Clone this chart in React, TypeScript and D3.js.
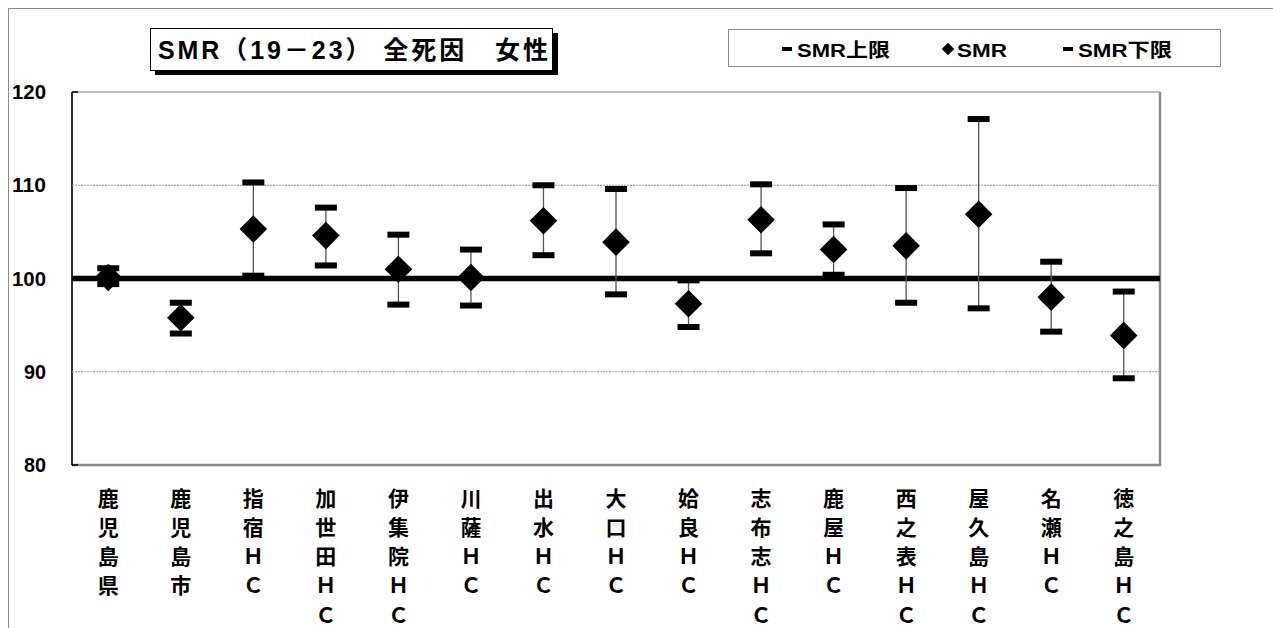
import React from "react";
import * as d3 from "d3";

const categories: string[] = [
  "鹿児島県", "鹿児島市", "指宿ＨＣ", "加世田ＨＣ", "伊集院ＨＣ", "川薩ＨＣ", "出水ＨＣ", "大口ＨＣ",
  "姶良ＨＣ", "志布志ＨＣ", "鹿屋ＨＣ", "西之表ＨＣ", "屋久島ＨＣ", "名瀬ＨＣ", "徳之島ＨＣ",
];
const smrUpper: number[] = [101.1, 97.4, 110.3, 107.6, 104.7, 103.1, 110.0, 109.6, 99.8, 110.1, 105.8, 109.7, 117.1, 101.8, 98.6];
const smrValues: number[] = [100.1, 95.8, 105.3, 104.6, 101.0, 100.1, 106.2, 103.9, 97.3, 106.3, 103.1, 103.5, 106.9, 98.0, 93.9];
const smrLower: number[] = [99.4, 94.1, 100.3, 101.4, 97.2, 97.1, 102.5, 98.3, 94.8, 102.7, 100.4, 97.4, 96.8, 94.3, 89.3];
const yTicks: number[] = [80, 90, 100, 110, 120];
const gridValues: number[] = [90, 110];
const baseline = 100;
const titleText = "SMR（19－23） 全死因　女性";
const legendLabels: string[] = ["SMR上限", "SMR", "SMR下限"];
const legendSymbols: string[] = ["bar", "diamond", "bar"];

const W = 1273;
const H = 628;
const plot = { left: 72, right: 1160, top: 92, bottom: 465 };
const FONT = "'Liberation Sans', Arial, 'Noto Sans CJK JP', sans-serif";

export default function App() {
  const x = d3
    .scaleBand<string>()
    .domain(categories)
    .range([plot.left, plot.right])
    .paddingInner(0)
    .paddingOuter(0);
  const y = d3.scaleLinear().domain([80, 120]).range([plot.bottom, plot.top]);
  const cx = (c: string) => (x(c) ?? 0) + x.bandwidth() / 2;

  const diamond = d3.symbol().type(d3.symbolDiamond2).size(2 * 11 * 11 * 2)();
  const legendDiamond = d3.symbol().type(d3.symbolDiamond2).size(2 * 5 * 5 * 2)();
  const capW = 22;
  const capH = 6;

  const legendLayout: [number, number, number][] = [[782, 797, 93], [948, 957, 50], [1063, 1078, 94]];

  return (
    <svg
      width={W}
      height={H}
      style={{ position: "absolute", left: 0, top: 0, background: "#fff" }}
      fontFamily={FONT}
    >
      <rect x={8.5} y={8.5} width={W + 10} height={H + 10} fill="#fff" stroke="#8c8c8c" strokeWidth={1} />

      <rect x={plot.left} y={plot.top} width={plot.right - plot.left} height={plot.bottom - plot.top} fill="#fff" stroke="#808080" strokeWidth={1} />
      <line x1={plot.right} x2={plot.right} y1={plot.top} y2={plot.bottom + 1} stroke="#8c8c8c" strokeWidth={2.5} />
      <line x1={plot.left} x2={plot.right + 1} y1={plot.bottom} y2={plot.bottom} stroke="#8c8c8c" strokeWidth={2.5} />
      <line x1={plot.left} x2={plot.left} y1={plot.top} y2={plot.bottom} stroke="#000" strokeWidth={1.5} />
      <line x1={plot.left} x2={plot.left + 6} y1={plot.bottom} y2={plot.bottom} stroke="#000" strokeWidth={1.5} />
      <line x1={plot.left} x2={plot.left + 6} y1={plot.top} y2={plot.top} stroke="#000" strokeWidth={1.5} />

      {gridValues.map((g) => (
        <line key={g} x1={plot.left} x2={plot.right} y1={y(g)} y2={y(g)} stroke="#9a9a9a" strokeWidth={1} strokeDasharray="2,1" />
      ))}

      {yTicks.map((t) => (
        <text
          key={t}
          x={46}
          y={y(t)}
          dy="0.36em"
          textAnchor="end"
          fontSize={20}
          fontWeight="bold"
          fill="#000"
          textLength={String(t).length === 3 ? 34 : 22}
          lengthAdjust="spacingAndGlyphs"
        >
          {t}
        </text>
      ))}

      <line x1={plot.left} x2={plot.right} y1={y(baseline)} y2={y(baseline)} stroke="#000" strokeWidth={5.5} />

      {categories.map((c, i) => (
        <g key={c}>
          <line x1={cx(c)} x2={cx(c)} y1={y(smrUpper[i])} y2={y(smrLower[i])} stroke="#555" strokeWidth={1.3} />
          <rect x={cx(c) - capW / 2} y={y(smrUpper[i]) - capH / 2} width={capW} height={capH} fill="#000" />
          <rect x={cx(c) - capW / 2} y={y(smrLower[i]) - capH / 2} width={capW} height={capH} fill="#000" />
          <path d={diamond ?? ""} transform={`translate(${cx(c)},${y(smrValues[i])})`} fill="#000" />
        </g>
      ))}

      {categories.map((c) => (
        <text key={c} textAnchor="middle" fontSize={21} fontWeight="bold" fill="#000">
          {Array.from(c).map((ch, k) => (
            <tspan key={k} x={cx(c)} y={505.5 + k * 29.3}>
              {ch}
            </tspan>
          ))}
        </text>
      ))}

      <rect x={155} y={33} width={403} height={42} fill="#000" />
      <rect x={150.5} y={28.5} width={402} height={42} fill="#fff" stroke="#000" strokeWidth={1} />
      <text
        x={158}
        y={59}
        fontSize={25}
        fontWeight="bold"
        fill="#000"
        textLength={390}
        lengthAdjust="spacing"
      >
        {titleText}
      </text>

      <rect x={728.5} y={29.5} width={492} height={37} fill="#fff" stroke="#8c8c8c" strokeWidth={1} />
      {legendLabels.map((label, i) => (
        <g key={i}>
          {legendSymbols[i] === "bar" ? (
            <rect x={legendLayout[i][0]} y={47} width={10} height={4} fill="#000" />
          ) : (
            <path d={legendDiamond ?? ""} transform={`translate(${legendLayout[i][0]},49)`} fill="#000" />
          )}
          <text
            x={legendLayout[i][1]}
            y={56.5}
            fontSize={19}
            fontWeight="bold"
            fill="#000"
            textLength={legendLayout[i][2]}
            lengthAdjust="spacingAndGlyphs"
          >
            {label}
          </text>
        </g>
      ))}
    </svg>
  );
}
